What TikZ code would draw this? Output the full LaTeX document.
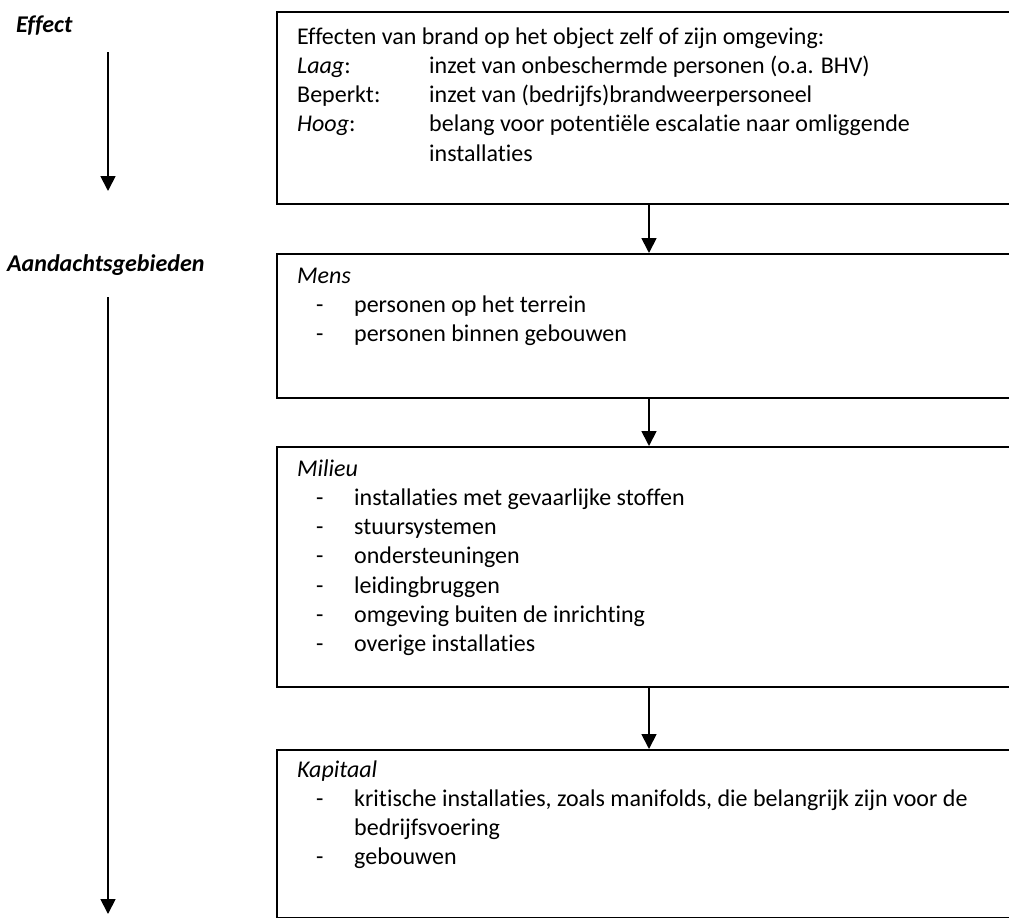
\documentclass[tikz,border=0pt]{standalone}
\usepackage{fontspec}
\setmainfont{Carlito}[Ligatures=NoCommon]
\usetikzlibrary{positioning,arrows.meta}
\newcommand{\kolom}[1]{\makebox[132pt][l]{#1}}
\newcommand{\streep}{\hspace*{19pt}\makebox[38pt][l]{-}}
\newcommand{\inspring}{\hspace*{57pt}}
\begin{document}
\begin{tikzpicture}
[x=1pt,y=-1pt,
 vak/.style={draw,line width=2pt,minimum width=800pt,inner sep=0pt,anchor=north west},
 tekst/.style={anchor=base west,inner sep=0pt,font=\fontsize{24}{29.25}\selectfont},
 kop/.style={anchor=base west,inner sep=0pt,font=\fontsize{24}{29.25}\selectfont\bfseries\itshape},
 pijl/.style={line width=1.8pt,-{Triangle[width=15pt,length=15pt]}}]
\useasboundingbox (0,0) rectangle (1009,918);
\clip (0,0) rectangle (1009,918);
% boxes
\node (vak1) [vak,minimum height=192pt] at (276,11) {};
\node (vak2) [vak,minimum height=144pt,below=48pt of vak1.south west,anchor=north west] {};
\node (vak3) [vak,minimum height=240pt,below=47pt of vak2.south west,anchor=north west] {};
\node (vak4) [vak,minimum height=168pt,below=61pt of vak3.south west,anchor=north west] {};
\coordinate (as) at (649,0); % x of the arrows between the boxes
\draw [pijl] (vak1.south -| as) -- (vak2.north -| as);
\draw [pijl] (vak2.south -| as) -- (vak3.north -| as);
\draw [pijl] (vak3.south -| as) -- (vak4.north -| as);
% texts in the boxes
\node (effecten) [tekst] at (297,44) {\parbox[t]{680pt}{%
  Effecten van brand op het object zelf of zijn omgeving:\\
  \kolom{\textit{Laag}:}inzet van onbeschermde personen (o.a. BHV)\\
  \kolom{Beperkt:}inzet van (bedrijfs)brandweerpersoneel\\
  \kolom{\textit{Hoog}:}belang voor potentiële escalatie naar omliggende\\
  \kolom{}installaties}};
\node (mens) [tekst] at (297,283) {\parbox[t]{680pt}{%
  \textit{Mens}\\
  \streep personen op het terrein\\
  \streep personen binnen gebouwen}};
\node (milieu) [tekst] at (297,476) {\parbox[t]{680pt}{%
  \textit{Milieu}\\
  \streep installaties met gevaarlijke stoffen\\
  \streep stuursystemen\\
  \streep ondersteuningen\\
  \streep leidingbruggen\\
  \streep omgeving buiten de inrichting\\
  \streep overige installaties}};
\node (kapitaal) [tekst] at (297,777) {\parbox[t]{680pt}{%
  \textit{Kapitaal}\\
  \streep kritische installaties, zoals manifolds, die belangrijk zijn voor de\\
  \inspring bedrijfsvoering\\
  \streep gebouwen}};
% left column
\node (effect) [kop] at (16,32) {Effect};
\node (aandacht) [kop] at (7,271) {Aandachtsgebieden};
\coordinate (effectbegin) at (108,52);
\coordinate (effecteind) at (108,191);
\coordinate (aandachtbegin) at (108,297);
\coordinate (aandachteind) at (108,914);
\draw [pijl] (effectbegin) -- (effecteind);
\draw [pijl] (aandachtbegin) -- (aandachteind);
\end{tikzpicture}
\end{document}
